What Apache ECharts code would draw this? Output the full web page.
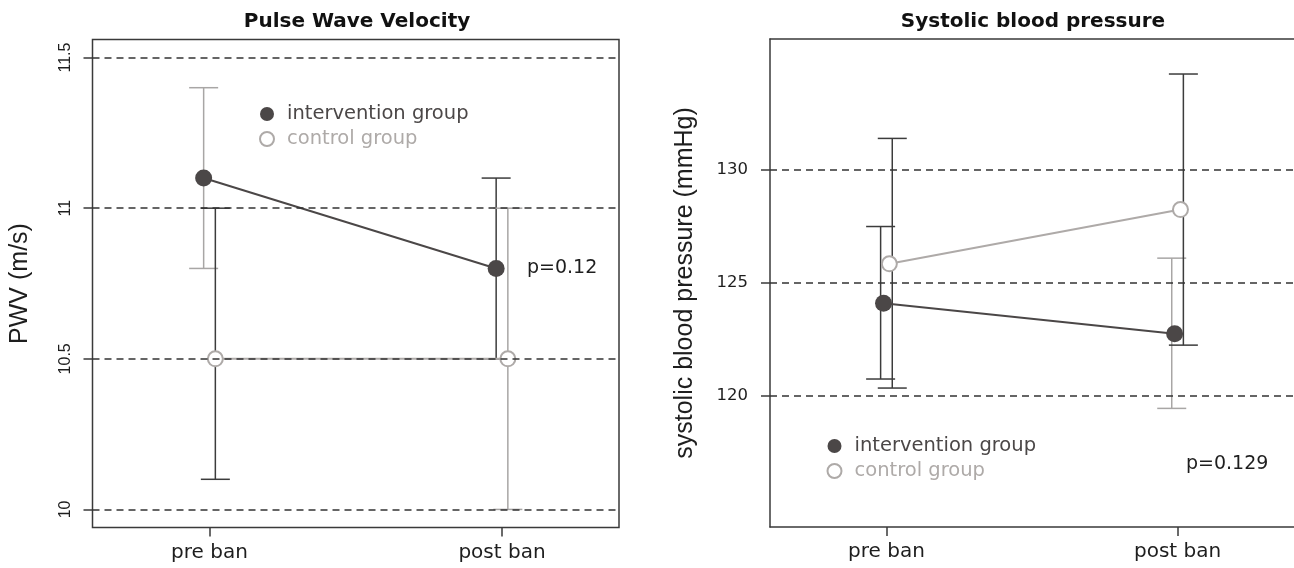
<!DOCTYPE html>
<html><head><meta charset="utf-8">
<script src="https://cdn.jsdelivr.net/npm/echarts@6/dist/echarts.min.js"></script>
<style>html,body{margin:0;padding:0;background:#fff}#c{width:1294px;height:568px}</style>
</head><body><div id="c"></div><script>
// ---- data ----
const categories = ['pre ban', 'post ban'];
const groupNames = ['intervention group', 'control group'];
const titles = ['Pulse Wave Velocity', 'Systolic blood pressure'];
const yNames = ['PWV (m/s)', 'systolic blood pressure (mmHg)'];
const pLabels = ['p=0.12', 'p=0.129'];

const pwvTicks = [10, 10.5, 11, 11.5];
const pwvIntervention = [11.1, 10.8];
const pwvControl = [10.5, 10.5];
const pwvErrAtIntervention = [[10.8, 11.4], [10.5, 11.1]];
const pwvErrAtControl = [[10.1, 11.0], [10.0, 11.0]];

const sbpTicks = [120, 125, 130];
const sbpIntervention = [124.1, 122.75];
const sbpControl = [125.85, 128.25];
const sbpErrAtIntervention = [[120.75, 127.5], [119.45, 126.1]];
const sbpErrAtControl = [[120.35, 131.4], [122.25, 134.25]];

// ---- styles ----
const DARK = '#4b4747', LIGHT = '#aeaaa8', BAR_DARK = '#3c3c3c', BAR_LIGHT = '#a8a6a5';
const INK = '#1e1e1e', FRAME = '#3a3a3a', GRIDC = '#333';
const barTones = {
  pwv: { intervention: [BAR_LIGHT, BAR_DARK], control: [BAR_DARK, BAR_LIGHT] },
  sbp: { intervention: [BAR_DARK, BAR_LIGHT], control: [BAR_DARK, BAR_DARK] }
};
const OFF = { pwvPt: 0.02, pwvBar: 0.02, sbpPt: 0.01, sbpBar: 0.02 };
const HFONT = '"DejaVu Sans", sans-serif';
const VFONT = '"Liberation Sans", Arial, sans-serif';
const FRAME_LINE = { show: true, lineStyle: { color: FRAME, width: 1.5 } };

const pts = (vals, sign, off) => vals.map((v, i) => [i + 1 + sign * off, v]);
const errs = (arr, sign, off) => arr.map((e, i) => [i + 1 + sign * off, e[0], e[1]]);

function errRender(colors) {
  return function (params, api) {
    const x = api.value(0);
    const a = api.coord([x, api.value(1)]);
    const b = api.coord([x, api.value(2)]);
    const h = 14.5;
    const st = { stroke: colors[params.dataIndex], lineWidth: 1.5 };
    return { type: 'group', children: [
      { type: 'line', shape: { x1: a[0], y1: a[1], x2: b[0], y2: b[1] }, style: st },
      { type: 'line', shape: { x1: a[0] - h, y1: a[1], x2: a[0] + h, y2: a[1] }, style: st },
      { type: 'line', shape: { x1: b[0] - h, y1: b[1], x2: b[0] + h, y2: b[1] }, style: st }
    ] };
  };
}

function panelSeries(idx, ticks, inter, ctrl, errI, errC, tones, offPt, offBar) {
  return [
    { type: 'line', name: '_grid' + idx, xAxisIndex: idx, yAxisIndex: idx, data: [], z: 1, silent: true,
      markLine: { silent: true, symbol: ['none', 'none'], label: { show: false }, animation: false,
        lineStyle: { type: [7, 5], color: GRIDC, width: 1.5 },
        data: ticks.map(v => ({ yAxis: v })) } },
    { type: 'custom', name: '_errI' + idx, xAxisIndex: idx, yAxisIndex: idx, z: 2, silent: true,
      renderItem: errRender(tones.intervention), encode: { x: 0, y: [1, 2] },
      data: errs(errI, -1, offBar) },
    { type: 'custom', name: '_errC' + idx, xAxisIndex: idx, yAxisIndex: idx, z: 2, silent: true,
      renderItem: errRender(tones.control), encode: { x: 0, y: [1, 2] },
      data: errs(errC, 1, offBar) },
    { type: 'line', name: groupNames[1], xAxisIndex: idx, yAxisIndex: idx, z: 3,
      data: pts(ctrl, 1, offPt), symbol: 'emptyCircle', symbolSize: 15,
      lineStyle: { color: LIGHT, width: 2 },
      itemStyle: { color: LIGHT, borderWidth: 2 } },
    { type: 'line', name: groupNames[0], xAxisIndex: idx, yAxisIndex: idx, z: 4,
      data: pts(inter, -1, offPt), symbol: 'circle', symbolSize: 17,
      lineStyle: { color: DARK, width: 2 },
      itemStyle: { color: DARK, borderWidth: 0 } }
  ];
}

function xAxisOpt(idx, withLine) {
  return { type: 'value', gridIndex: idx, min: 0.6, max: 2.4,
    axisLine: withLine ? FRAME_LINE : { show: false }, splitLine: { show: false },
    axisTick: { show: true, customValues: [1, 2], length: 9, lineStyle: { color: FRAME, width: 1.5 } },
    axisLabel: { show: true, customValues: [1, 2], margin: 15, fontFamily: HFONT, fontSize: 20, color: INK,
      formatter: v => categories[Math.round(v) - 1] } };
}

const legendItems = [
  { name: groupNames[0], icon: 'circle', itemStyle: { color: DARK, borderWidth: 0 }, textStyle: { color: DARK } },
  { name: groupNames[1], icon: 'emptyCircle', itemStyle: { color: LIGHT, borderColor: LIGHT, borderWidth: 1.5 }, textStyle: { color: LIGHT } }
];
function legendOpt(left, top) {
  return { left, top, orient: 'vertical', itemWidth: 30, itemHeight: 14, itemGap: 5, padding: 0,
    selectedMode: false, data: legendItems,
    textStyle: { fontFamily: HFONT, fontSize: 19.5, lineHeight: 20 } };
}

const chart = echarts.init(document.getElementById('c'), null, { renderer: 'canvas' });
chart.setOption({
  backgroundColor: '#fff',
  animation: false,
  title: [
    { text: titles[0], left: 357, top: 12, padding: 0, textAlign: 'center',
      textStyle: { fontFamily: HFONT, fontWeight: 'bold', fontSize: 20, color: '#111' } },
    { text: titles[1], left: 1033, top: 12, padding: 0, textAlign: 'center',
      textStyle: { fontFamily: HFONT, fontWeight: 'bold', fontSize: 20, color: '#111' } }
  ],
  legend: [legendOpt(259, 104), legendOpt(826.5, 436)],
  grid: [
    { left: 92.5, top: 39.5, width: 526.5, height: 488, show: true, borderColor: FRAME, borderWidth: 1.5, backgroundColor: 'transparent' },
    { left: 770, top: 39, width: 527, height: 488, show: false }
  ],
  xAxis: [
    xAxisOpt(0, false),
    xAxisOpt(1, true),
    { type: 'value', gridIndex: 1, position: 'top', min: 0.6, max: 2.4,
      axisLine: FRAME_LINE, axisTick: { show: false }, axisLabel: { show: false }, splitLine: { show: false } }
  ],
  yAxis: [
    { type: 'value', gridIndex: 0, min: 9.94, max: 11.56,
      name: yNames[0], nameLocation: 'middle', nameGap: 60,
      nameTextStyle: { fontFamily: VFONT, fontSize: 25, color: INK },
      axisLine: { show: false }, splitLine: { show: false },
      axisTick: { show: true, customValues: pwvTicks, length: 9, lineStyle: { color: FRAME, width: 1.5 } },
      axisLabel: { show: true, customValues: pwvTicks, rotate: 90, margin: 19, fontFamily: VFONT, fontSize: 16, color: INK,
        formatter: v => String(v) } },
    { type: 'value', gridIndex: 1, min: 114.2, max: 135.8,
      name: yNames[1], nameLocation: 'middle', nameGap: 72,
      nameTextStyle: { fontFamily: VFONT, fontSize: 25, color: INK },
      axisLine: FRAME_LINE, splitLine: { show: false },
      axisTick: { show: true, customValues: sbpTicks, length: 9, lineStyle: { color: FRAME, width: 1.5 } },
      axisLabel: { show: true, customValues: sbpTicks, margin: 22, fontFamily: HFONT, fontSize: 16.5, color: INK,
        formatter: v => String(v) } }
  ],
  graphic: [
    { type: 'text', x: 527, y: 268, silent: true,
      style: { text: pLabels[0], font: '19px ' + HFONT, fill: INK, align: 'left', verticalAlign: 'middle' } },
    { type: 'text', x: 1186, y: 464, silent: true,
      style: { text: pLabels[1], font: '19px ' + HFONT, fill: INK, align: 'left', verticalAlign: 'middle' } }
  ],
  series: [
    ...panelSeries(0, pwvTicks, pwvIntervention, pwvControl, pwvErrAtIntervention, pwvErrAtControl, barTones.pwv, OFF.pwvPt, OFF.pwvBar),
    ...panelSeries(1, sbpTicks, sbpIntervention, sbpControl, sbpErrAtIntervention, sbpErrAtControl, barTones.sbp, OFF.sbpPt, OFF.sbpBar)
  ]
});
</script></body></html>
